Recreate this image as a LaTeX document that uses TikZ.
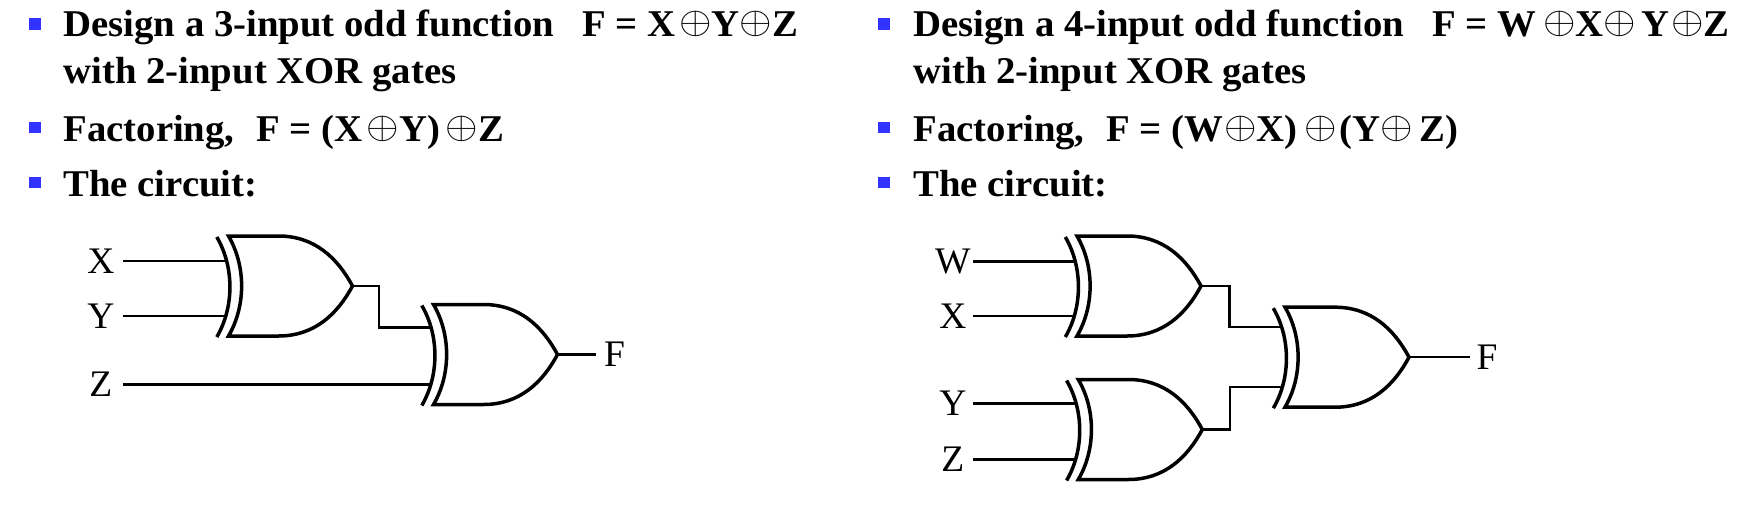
\documentclass[tikz,border=0pt]{standalone}
\usepackage{fix-cm}
\usepackage{fontspec}
\setmainfont{Liberation Serif}
\newfontfamily\hdfont{Liberation Serif}[FakeStretch=1.025]
\newcommand\xorsym{\raisebox{3.7pt}{\resizebox*{32.5pt}{25.5pt}{$\oplus$}}}
\definecolor{bulletblue}{RGB}{51,51,255}
\tikzset{
  headtext/.style={anchor=base west, inner sep=0pt, font=\hdfont\bfseries\fontsize{37.8}{44}\selectfont},
  bulletbox/.style={fill=bulletblue, draw=none, minimum size=11.5pt, inner sep=0pt},
  lbl/.style={font=\fontsize{37.5}{45}\selectfont, inner sep=0pt},
  lblL/.style={lbl, anchor=east, minimum width=44pt},
  lblR/.style={lbl, anchor=east, minimum width=40pt},
  gateline/.style={line width=3.5pt},
  wire/.style={line width=2.5pt},
  xortop/.store in=\xortop, xortop=25,
  xorgate/.pic={
    \draw[gateline] (0,-50) -- (50,-50) .. controls (86,-50) and (109,-28) .. (124,0)
      .. controls (109,28) and (86,50) .. (50,50) -- (0,50)
      .. controls (17.5,20) and (17.5,-20) .. (0,-50) -- cycle;
    \draw[gateline] (-11.7,-49) .. controls (5.8,-19) and (5.8,21) .. (-11.7,51);
    \coordinate (-in1) at (-2.3,-\xortop);
    \coordinate (-in2) at (-3.2,30);
    \coordinate (-out) at (124,0);
  }
}
\begin{document}
\begin{tikzpicture}[x=1pt,y=-1pt]
\useasboundingbox (0,0) rectangle (1742,525);
% ---- left column text
\node[bulletbox] (bl1) at (35,24.2) {};
\node[bulletbox] (bl3) at (35,127.5) {};
\node[bulletbox] (bl4) at (35,182.5) {};
\node[headtext] (tl1) at (63.3,36.7) {Design a 3-input odd function\hspace{28pt}F = X\kern4pt\xorsym Y\xorsym Z};
\node[headtext] (tl2) at (63.3,83.3) {with 2-input XOR gates};
\node[headtext] (tl3) at (63.3,141.7) {Factoring,\hspace{22pt}F = (X\kern4pt\xorsym Y)\kern6pt\xorsym Z};
\node[headtext] (tl4) at (63.3,196.7) {The circuit:};
% ---- right column text
\node[bulletbox] (br1) at (884.2,24.2) {};
\node[bulletbox] (br3) at (884.2,127.5) {};
\node[bulletbox] (br4) at (884.2,182.5) {};
\node[headtext] (tr1) at (913.3,36.7) {Design a 4-input odd function\hspace{28pt}F = W\kern7pt\xorsym X\xorsym\kern5pt Y\kern2pt\xorsym Z};
\node[headtext] (tr2) at (913.3,83.3) {with 2-input XOR gates};
\node[headtext] (tr3) at (913.3,141.7) {Factoring,\hspace{22pt}F = (W\kern1pt\xorsym X)\kern7pt\xorsym\kern2pt(Y\xorsym\kern7pt Z)};
\node[headtext] (tr4) at (913.3,196.7) {The circuit:};
% ---- left circuit
\pic (g1) at (228.5,286) {xorgate};
\pic[xortop=27] (g2) at (433.5,354.5) {xorgate};
\node[lblL] (LX) at (123,261) {X};
\node[lblL] (LY) at (123,316) {Y};
\node[lblL] (LZ) at (123,384.5) {Z};
\node[lbl, anchor=west, inner xsep=7.5pt] (LF) at (596.4,354.5) {F};
\draw[wire] (LX) -- (g1-in1);
\draw[wire] (LY) -- (g1-in2);
\draw[wire] (LZ) -- (g2-in2);
\draw[wire] (g1-out) -- ++(26.5,0) |- (g2-in1);
\draw[wire] (g2-out) -- (LF);
% ---- right circuit
\pic[xortop=24.5] (gA) at (1077,286) {xorgate};
\pic[xortop=26] (gB) at (1078.3,429.5) {xorgate};
\pic[xortop=30] (gC) at (1285,357.2) {xorgate};
\node[lblR] (RW) at (973,261.5) {W};
\node[lblR] (RX) at (973,316) {X};
\node[lblR] (RY) at (973,403.5) {Y};
\node[lblR] (RZ) at (973,459.5) {Z};
\node[lbl, anchor=west, inner xsep=6.5pt] (RF) at (1470,357.2) {F};
\draw[wire] (RW) -- (gA-in1);
\draw[wire] (RX) -- (gA-in2);
\draw[wire] (RY) -- (gB-in1);
\draw[wire] (RZ) -- (gB-in2);
\draw[wire] (gA-out) -- ++(28.5,0) |- (gC-in1);
\draw[wire] (gB-out) -- ++(27.5,0) |- (gC-in2);
\draw[wire] (gC-out) -- (RF);
\end{tikzpicture}
\end{document}
